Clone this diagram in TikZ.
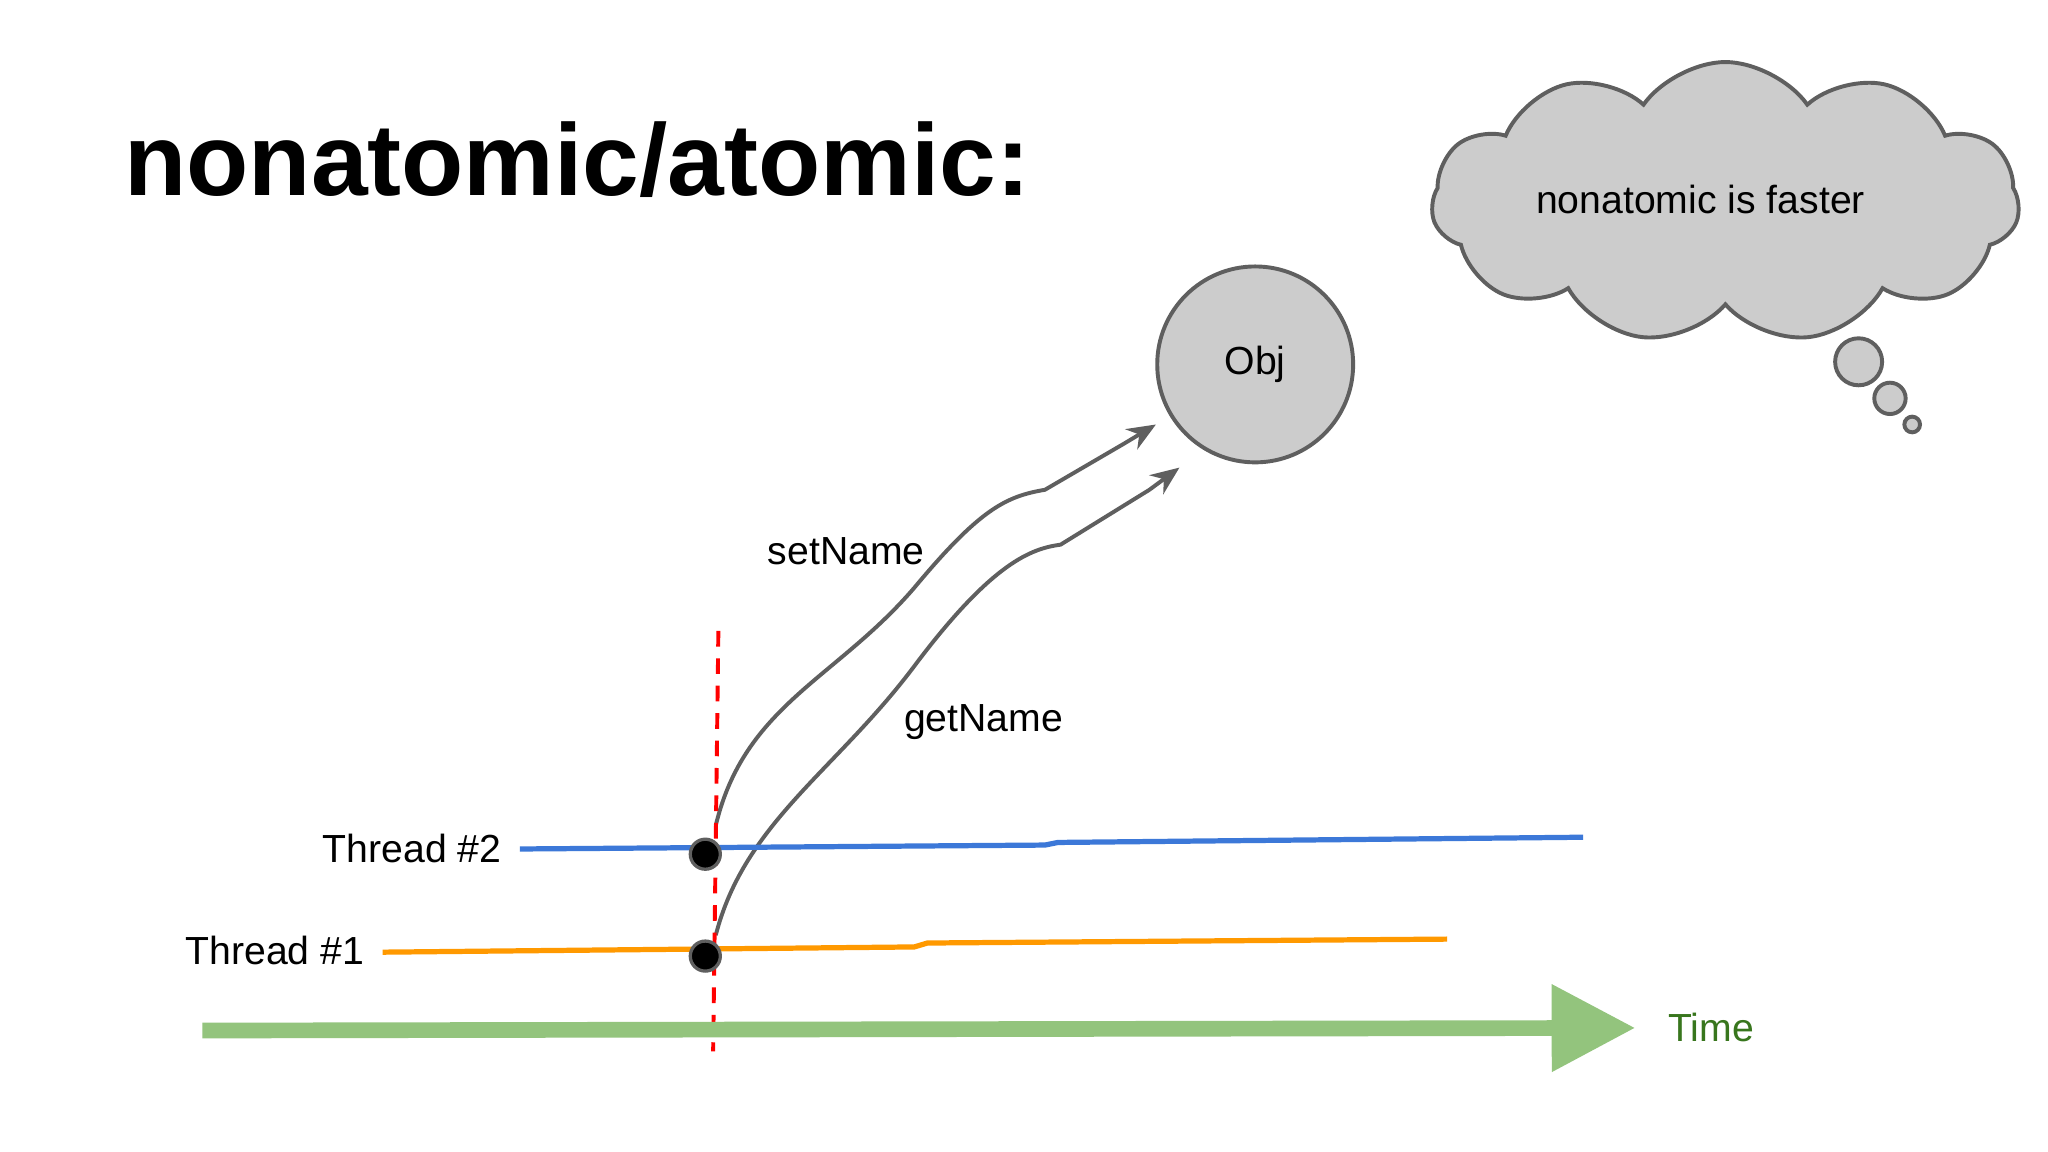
\documentclass[tikz,border=0pt]{standalone}
\usepackage{fontspec}
\setmainfont{Liberation Sans}
\usetikzlibrary{shapes.symbols,arrows.meta}
\definecolor{lgray}{HTML}{CCCCCC}
\definecolor{dgray}{HTML}{5F5F5F}
\definecolor{tblue}{HTML}{3C78D8}
\definecolor{torange}{HTML}{FF9900}
\definecolor{tgreen}{HTML}{93C47D}
\definecolor{dgreen}{HTML}{38761D}
\begin{document}
\begin{tikzpicture}[x=1pt,y=-1pt,
  lbl/.style={font=\fontsize{30}{32}\selectfont,inner sep=0},
  call/.style={draw=dgray,line width=3,-{Stealth[length=22,width=18]}},
  dot/.style={circle,fill=black,draw=dgray,line width=2.5,minimum size=23,inner sep=0},
  bub/.style={circle,fill=lgray,draw=dgray,line width=3,inner sep=0}]
\useasboundingbox[fill=white] (0,0) rectangle (1568,882);
\node[anchor=base west,inner sep=0,font=\bfseries\fontsize{78}{80}\selectfont] (title) at (95,150) {nonatomic/atomic:};
\node[cloud,cloud puffs=11,cloud puff arc=110,aspect=2.3,fill=lgray,draw=dgray,line width=3,minimum width=450,minimum height=215] (cloud) at (1321,155) {};
\node[lbl] (ctext) at (1302,153) {nonatomic is faster};
\node[bub,minimum size=36] (b1) at (1423,277) {};
\node[bub,minimum size=24] (b2) at (1447,305) {};
\node[bub,minimum size=12] (b3) at (1464,325) {};
\node[circle,fill=lgray,draw=dgray,line width=3,minimum size=150,lbl] (obj) at (961,279) {Obj};
\coordinate (d2) at (540,654);
\coordinate (d1) at (540,732);
\coordinate (a2) at (885,325);
\coordinate (a1) at (903,358);
\draw[call] (548,632) .. controls (570,540) and (640,520) .. (700,450) .. controls (750,390) and (770,380) .. (800,375) -- (860,340) -- (a2);
\draw[call] (548,716) .. controls (570,630) and (640,590) .. (700,510) .. controls (760,430) and (790,420) .. (812,417) -- (880,375) -- (a1);
\node[lbl] (set) at (648,422) {setName};
\node[lbl] (get) at (753,553) {getName};
\coordinate (r1) at (550,483);
\coordinate (r2) at (546,805);
\draw[red,dashed,line width=3,dash pattern=on 12 off 9] (r1) -- (r2);
\coordinate (t2s) at (398,650); \coordinate (t2e) at (1212,641);
\coordinate (t1s) at (293,729); \coordinate (t1e) at (1108,719);
\draw[tblue,line width=4] (t2s) -- (800,647) -- (810,645) -- (t2e);
\draw[torange,line width=4] (t1s) -- (700,725) -- (710,722) -- (t1e);
\node[lbl,anchor=east] (th2) at (384,650) {Thread \#2};
\node[lbl,anchor=east] (th1) at (279,728) {Thread \#1};
\node[dot] (p2) at (d2) {};
\node[dot] (p1) at (d1) {};
\coordinate (ts) at (155,789); \coordinate (te) at (1252,787);
\draw[tgreen,line width=12,-{Triangle[length=64,width=64]}] (ts) -- (te);
\node[lbl,text=dgreen,anchor=west] (time) at (1277,787) {Time};
\end{tikzpicture}
\end{document}
